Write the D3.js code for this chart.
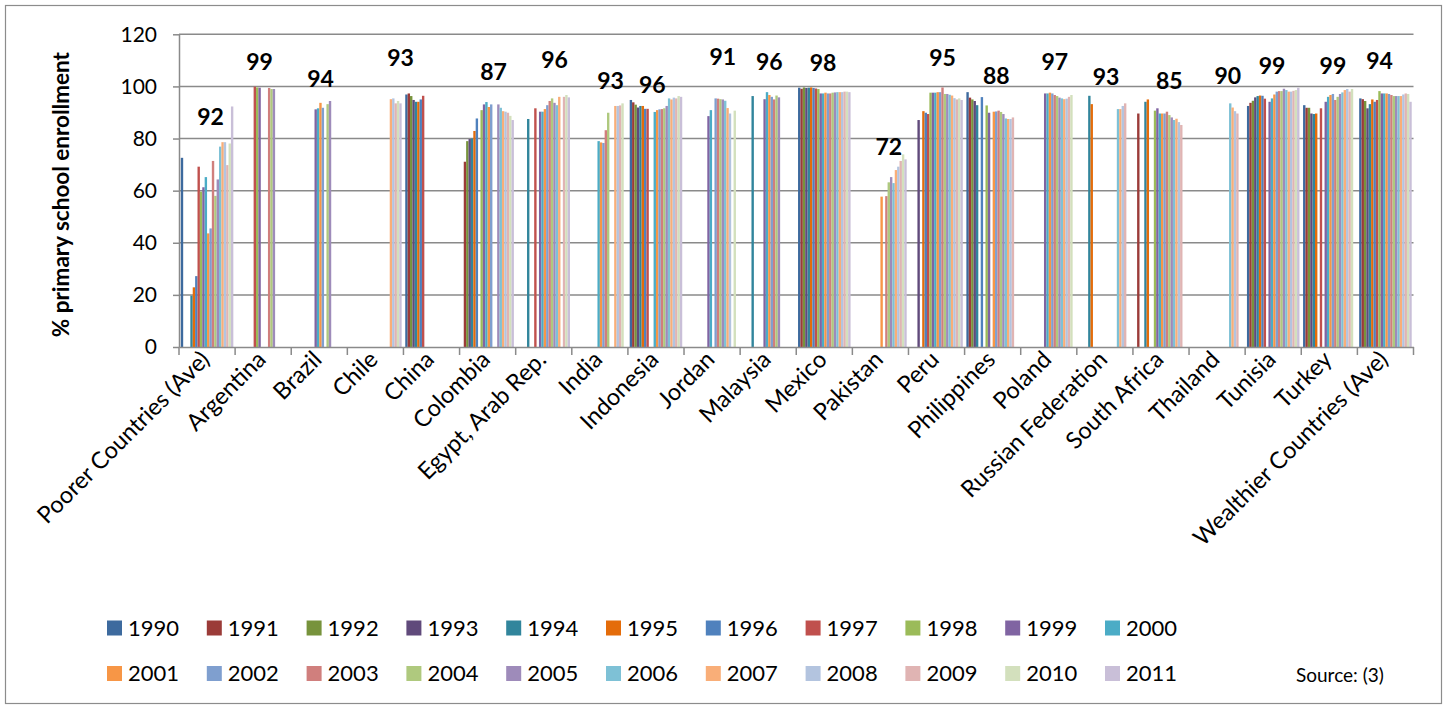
<!DOCTYPE html>
<html>
<head>
<meta charset="utf-8">
<script src="https://cdn.jsdelivr.net/npm/d3@7"></script>
<style>
  html, body { margin: 0; padding: 0; background: #ffffff; }
  svg { display: block; }
  text { font-family: Lato, "Open Sans", "Liberation Sans", sans-serif; fill: #000; }
</style>
</head>
<body>
<svg id="chart" width="1448" height="711"></svg>
<script>
// ---------- DATA ----------
const categories = ["Poorer Countries (Ave)", "Argentina", "Brazil", "Chile", "China", "Colombia",
  "Egypt, Arab Rep.", "India", "Indonesia", "Jordan", "Malaysia", "Mexico", "Pakistan", "Peru",
  "Philippines", "Poland", "Russian Federation", "South Africa", "Thailand", "Tunisia", "Turkey",
  "Wealthier Countries (Ave)"];

const years = ["1990","1991","1992","1993","1994","1995","1996","1997","1998","1999","2000",
  "2001","2002","2003","2004","2005","2006","2007","2008","2009","2010","2011"];

const yTicks = [0, 20, 40, 60, 80, 100, 120];

// values per category, 1990..2011 (null = no data)
const poorer      = [72.6, null, null, null, 19.7, 22.9, 27.2, 69.2, 59.6, 61.3, 65.2, 43.6, 45.5, 71.4, 58.0, 64.3, 76.9, 78.6, 78.6, 69.8, 78.1, 92.3];
const argentina   = [null, null, null, null, null, null, null, 99.9, 99.6, 99.5, null, null, null, 99.4, 99.0, 99.0, null, null, null, null, null, null];
const brazil      = [null, null, null, null, null, null, null, null, null, 91.2, 91.6, 93.7, 91.8, null, 93.2, 94.4, null, null, null, null, null, null];
const chile       = [null, null, null, null, null, null, null, null, null, null, null, null, null, null, null, null, null, 95.1, 95.4, 93.5, 94.4, 93.5];
const china       = [96.9, 97.3, 96.3, 94.8, 94.1, 94.1, 95.0, 96.4, null, null, null, null, null, null, null, null, null, null, null, null, null, null];
const colombia    = [null, 71.1, 79.0, 79.8, 80.0, 82.9, 87.7, null, 90.9, 93.1, 94.0, 92.1, 93.1, null, null, 93.1, 91.8, 90.5, 90.3, 89.9, 88.7, 87.1];
const egypt       = [null, null, null, null, 87.5, null, null, 91.6, null, 90.3, 90.3, 91.3, 92.8, 94.4, 95.4, 93.7, 92.8, 96.0, null, 96.0, 96.7, 95.8];
const india       = [null, null, null, null, null, null, null, null, null, null, 79.0, 78.5, 78.3, 83.2, 89.9, null, null, 92.5, 92.5, 92.7, 93.5, null];
const indonesia   = [94.8, 93.9, 93.0, 91.9, 92.5, 92.5, 91.4, 91.4, null, null, 90.2, 90.9, 91.2, 91.3, 91.6, 92.5, 95.4, 95.0, 95.7, 95.4, 96.3, 96.0];
const jordan      = [null, null, null, null, null, null, null, null, null, 88.6, 90.9, null, 95.4, 95.3, 95.1, 95.0, 94.5, 91.7, 89.6, null, 90.7, null];
const malaysia    = [null, null, null, null, 96.3, null, null, null, null, 95.1, 97.8, 96.7, 96.0, 95.0, 96.5, 95.8, null, null, null, null, null, null];
const mexico      = [99.5, 99.1, 99.6, 99.4, 99.5, 99.6, 99.4, 99.2, 99.0, 97.3, 97.3, 97.6, 97.3, 97.3, 97.6, 97.7, 97.8, 97.8, 97.8, 98.0, 98.0, 97.8];
const pakistan    = [null, null, null, null, null, null, null, null, null, null, null, 57.7, null, 57.9, 63.2, 65.2, 62.9, 67.9, 69.2, 71.4, 73.9, 72.0];
const peru        = [null, null, null, 87.1, null, 90.5, 89.9, 89.4, 97.6, 97.6, 97.6, 97.8, 97.8, 99.6, 97.1, 97.1, 96.8, 96.5, 95.5, 95.0, 95.4, 94.8];
const philippines = [97.8, 95.7, 95.0, 94.4, 92.8, null, 95.9, null, 92.7, 89.9, null, 90.3, 90.4, 90.7, 90.2, 89.4, 87.7, 87.5, 87.5, 88.1, null, null];
const poland      = [null, null, null, null, null, null, null, null, null, 97.3, 97.3, 97.6, 97.3, 96.7, 96.3, 95.7, 95.4, 95.1, 95.3, 96.0, 96.7, null];
const russia      = [null, null, null, null, 96.4, 93.2, null, null, null, null, null, null, null, null, null, null, 91.3, 91.3, 92.5, 93.5, null, null];
const southAfrica = [null, 89.6, null, null, 94.1, 95.0, null, null, 90.7, 91.6, 89.6, 89.6, 89.6, 90.3, 89.0, 88.1, 87.1, 87.6, 86.3, 85.2, null, null];
const thailand    = [null, null, null, null, null, null, null, null, null, null, null, null, null, null, null, null, 93.5, 91.9, 90.5, 89.6, null, null];
const tunisia     = [92.5, 93.7, 94.5, 95.8, 96.3, 96.5, 96.4, 95.3, null, 94.1, 95.4, 96.9, 98.0, 98.2, 98.2, 99.1, 98.6, 98.0, 98.0, 98.3, 98.6, 99.5];
const turkey      = [92.8, 91.8, 91.8, 89.6, 89.4, 89.6, null, 91.6, null, 94.1, 96.0, 96.7, 97.1, 94.8, 96.0, 97.1, 97.7, 98.6, 99.0, 98.0, 99.0, null];
const wealthier   = [95.4, 95.1, 94.4, 91.6, 93.2, 95.0, 94.1, 94.8, 98.2, 97.3, 97.3, 97.3, 97.1, 96.7, 96.3, 96.3, 96.3, 96.3, 96.9, 97.3, 97.1, 94.1];

const valuesByCategory = [poorer, argentina, brazil, chile, china, colombia, egypt, india, indonesia,
  jordan, malaysia, mexico, pakistan, peru, philippines, poland, russia, southAfrica, thailand,
  tunisia, turkey, wealthier];

// value callouts (latest value), anchored in data space: category + year column, value level
const labelCategories = ["Poorer Countries (Ave)", "Argentina", "Brazil", "Chile", "Colombia",
  "Egypt, Arab Rep.", "India", "Indonesia", "Jordan", "Malaysia", "Mexico", "Pakistan", "Peru",
  "Philippines", "Poland", "Russian Federation", "South Africa", "Thailand", "Tunisia", "Turkey",
  "Wealthier Countries (Ave)"];
const labelTexts = ["92","99","94","93","87","96","93","96","91","96","98","72","95","88","97","93","85","90","99","99","94"];
const labelAnchorYear = ["2002","1999","2001","2011","2003","2005","2005","1999","2005","2001","2000","2004","2003","2002","2003","2001","2004","2005","2000","2002","1998"];
const labelAnchorLevel = [88.3, 109.4, 102.8, 110.9, 105.5, 110.1, 102.1, 100.5, 111.3, 109.4, 109.0, 76.7, 110.9, 104.0, 109.4, 103.6, 102.1, 104.0, 107.8, 107.8, 109.7];

const yearColors = ["#3d6a9e","#9b3b38","#77933c","#604a7b","#31859c","#e46c0a",
  "#4f81bd","#c0504d","#9bbb59","#8064a2","#4bacc6","#f79646",
  "#7f9fcf","#d07f7d","#afc97e","#9e8bba","#7ec1d6","#f9ae78",
  "#b3c4df","#e0b4b3","#d3e0bd","#c9bfd8"];

// ---------- LAYOUT ----------
const svg = d3.select("#chart");
const plot = { left: 179, right: 1413.5, top: 34.3, bottom: 347 };

const x0 = d3.scaleBand().domain(categories).range([plot.left, plot.right]).padding(0);
const x1 = d3.scaleBand().domain(years).range([0, x0.bandwidth()]).paddingInner(0).paddingOuter(0.75);
const y = d3.scaleLinear().domain([0, 120]).range([plot.bottom, plot.top]);
const color = d3.scaleOrdinal().domain(years).range(yearColors);

// outer border
svg.append("rect").attr("x", 5.5).attr("y", 5.5).attr("width", 1436).attr("height", 698)
  .attr("fill", "none").attr("stroke", "#8c8c8c").attr("stroke-width", 1.2);

// gridlines
svg.append("g").selectAll("line").data(yTicks.filter(d => d > 0)).join("line")
  .attr("x1", plot.left).attr("x2", plot.right)
  .attr("y1", d => y(d)).attr("y2", d => y(d))
  .attr("stroke", "#8a8a8a").attr("stroke-width", 1.5);

// bars
const rows = [];
categories.forEach((c, ci) => {
  years.forEach((yr, yi) => {
    const v = valuesByCategory[ci][yi];
    if (v !== null) rows.push({ c, yr, v });
  });
});
svg.append("g").selectAll("rect").data(rows).join("rect")
  .attr("x", d => x0(d.c) + x1(d.yr))
  .attr("width", x1.bandwidth())
  .attr("y", d => y(d.v))
  .attr("height", d => y(0) - y(d.v))
  .attr("fill", d => color(d.yr));

// y axis
const yAxis = d3.axisLeft(y).tickValues(yTicks).tickSize(6).tickSizeOuter(0).tickPadding(16);
const gy = svg.append("g").attr("transform", `translate(${plot.left},0)`).call(yAxis);
gy.select(".domain").attr("stroke", "#8a8a8a").attr("stroke-width", 1.5);
gy.selectAll(".tick line").attr("stroke", "#8a8a8a").attr("stroke-width", 1.5);
gy.selectAll(".tick text").attr("font-size", 21).attr("font-family", "Lato, sans-serif").attr("fill", "#000");

// x axis
const xAxis = d3.axisBottom(x0).tickSize(0).tickSizeOuter(0).tickFormat("");
const gx = svg.append("g").attr("transform", `translate(0,${plot.bottom})`).call(xAxis);
gx.select(".domain").attr("stroke", "#8a8a8a").attr("stroke-width", 1.5);
// boundary tick marks
const boundaries = categories.map(c => x0(c)).concat([x0(categories[categories.length - 1]) + x0.bandwidth()]);
svg.append("g").selectAll("line").data(boundaries).join("line")
  .attr("x1", d => d).attr("x2", d => d)
  .attr("y1", plot.bottom).attr("y2", plot.bottom + 8)
  .attr("stroke", "#8a8a8a").attr("stroke-width", 1.5);

// category labels
svg.append("g").selectAll("text").data(categories).join("text")
  .attr("transform", d => `translate(${x0(d) + x0.bandwidth() / 2 + 4},${plot.bottom + 14}) rotate(-45)`)
  .attr("text-anchor", "end")
  .attr("font-size", 23.5)
  .text(d => d);

// y axis title
svg.append("text")
  .attr("transform", `translate(69,${(plot.top + plot.bottom) / 2 + 4}) rotate(-90)`)
  .attr("text-anchor", "middle")
  .attr("font-size", 22.5).attr("font-weight", "bold")
  .text("% primary school enrollment");

// value callouts
svg.append("g").selectAll("text").data(labelTexts).join("text")
  .attr("x", (d, i) => x0(labelCategories[i]) + x1(labelAnchorYear[i]) + x1.bandwidth() / 2)
  .attr("y", (d, i) => y(labelAnchorLevel[i]))
  .attr("dy", "0.36em")
  .attr("text-anchor", "middle")
  .attr("font-size", 23).attr("font-weight", "bold")
  .text(d => d);

// legend
const legendCols = 11;
const legend = svg.append("g").selectAll("g").data(years).join("g")
  .attr("transform", (d, i) => `translate(${107 + (i % legendCols) * 99.8},${620.5 + Math.floor(i / legendCols) * 45.5})`);
legend.append("rect").attr("width", 15).attr("height", 15).attr("fill", d => color(d));
legend.append("text").attr("x", 21).attr("y", 7.5).attr("dy", "0.36em")
  .attr("font-size", 22).text(d => d);

// source
svg.append("text").attr("x", 1296).attr("y", 682).attr("font-size", 19).text("Source: (3)");
</script>
</body>
</html>
